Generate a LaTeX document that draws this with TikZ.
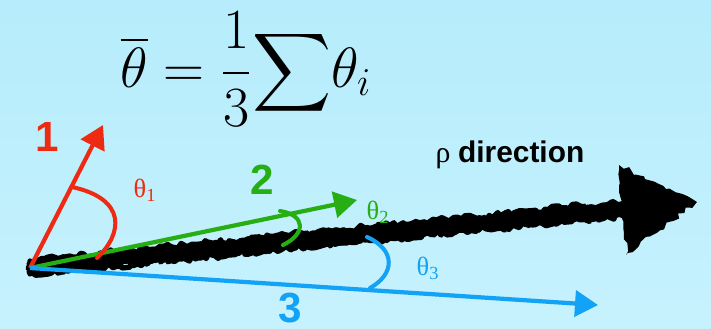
\documentclass[tikz,border=0pt]{standalone}
\usepackage{amsmath,amssymb}
\usepackage{fontspec}
\setmainfont{Liberation Serif}
\setsansfont{Liberation Sans}
\usepackage{tikz}
\usetikzlibrary{arrows.meta,decorations.pathmorphing,positioning}
\definecolor{rhoSkyTop}{HTML}{B6ECFB}
\definecolor{rhoSkyBot}{HTML}{C6F2FD}
\definecolor{rhoRed}{HTML}{EE2A12}
\definecolor{rhoGreen}{HTML}{26AE12}
\definecolor{rhoBlue}{HTML}{12A2F6}
\definecolor{rhoInk}{HTML}{000000}
\tikzset{
  rho diagram/.style={line cap=round, line join=round},
  rho vec/.style={-{Triangle[length=4.6mm,width=5.2mm]}, line width=2.4pt, line cap=butt},
  rho arc/.style={line width=2.3pt},
  rho num/.style={font=\sffamily\bfseries\fontsize{24}{24}\selectfont, inner sep=0pt},
  rho angle/.style={font=\fontsize{15}{15}\selectfont, inner sep=0pt},
  rho stroke/.style={draw=rhoInk, decorate,
    decoration={random steps, segment length=2pt, amplitude=1.8pt}}
}

\begin{document}
\begin{tikzpicture}[rho diagram]
\useasboundingbox (0,0) rectangle (14.22,6.58);
\shade[top color=rhoSkyTop, bottom color=rhoSkyBot] (0,0) rectangle (14.22,6.58);

% points
\coordinate (O) at (0.6,1.22);
\coordinate (tip1) at (2.06,4.08);
\coordinate (tip2) at (7.14,2.58);
\coordinate (tip3) at (11.96,0.48);
\coordinate (tipRho) at (13.94,2.54);
\coordinate (baseRho) at (12.5,2.40);

% formula
\node[inner sep=0pt, scale=1.3] (mean) at (4.92,5.2) {\fontsize{24}{28}\selectfont
  $\displaystyle\overline{\theta}=\frac{1}{3}\!\sum\!\theta_{i}$};

% sketchy rho direction
\pgfmathsetseed{7}
\foreach \w/\dy in {5pt/0, 4pt/0.08, 4pt/-0.08, 3pt/0.14, 3pt/-0.12, 2pt/0.04, 2pt/-0.04}
  \draw[rho stroke, line width=\w] ([yshift=\dy cm]O) -- ([yshift=\dy cm]baseRho);
\fill[rhoInk, decorate, decoration={random steps, segment length=3pt, amplitude=1.5pt}]
  (12.38,3.28) -- (tipRho) -- (12.52,1.48) -- cycle;
\node[font=\fontsize{17}{17}\selectfont, inner sep=0pt] (rhoLab) at (10.2,3.48)
  {ρ \sffamily\bfseries direction};

% vectors
\draw[rho vec, rhoRed] (O) -- (tip1);
\draw[rho vec, rhoGreen] (O) -- (tip2);
\draw[rho vec, rhoBlue] (O) -- (tip3);

% angles
\draw[rho arc, rhoRed] (1.44,2.84) .. controls (2.55,2.6) and (2.45,1.9) .. (1.94,1.42);
\draw[rho arc, rhoGreen] (5.6,2.36) .. controls (6.12,2.28) and (6.12,1.9) .. (5.66,1.68);
\draw[rho arc, rhoBlue] (7.34,1.84) .. controls (7.92,1.58) and (7.9,1.1) .. (7.4,0.82);

% labels
\node[rho num, text=rhoRed] (n1) at (0.94,3.84) {1};
\node[rho num, text=rhoGreen] (n2) at (5.24,2.98) {2};
\node[rho num, text=rhoBlue] (n3) at (5.8,0.42) {3};
\node[rho angle, text=rhoRed] (a1) at (2.9,2.78) {θ\textsubscript{1}};
\node[rho angle, text=rhoGreen] (a2) at (7.56,2.34) {θ\textsubscript{2}};
\node[rho angle, text=rhoBlue] (a3) at (8.56,1.22) {θ\textsubscript{3}};
\end{tikzpicture}
\end{document}
